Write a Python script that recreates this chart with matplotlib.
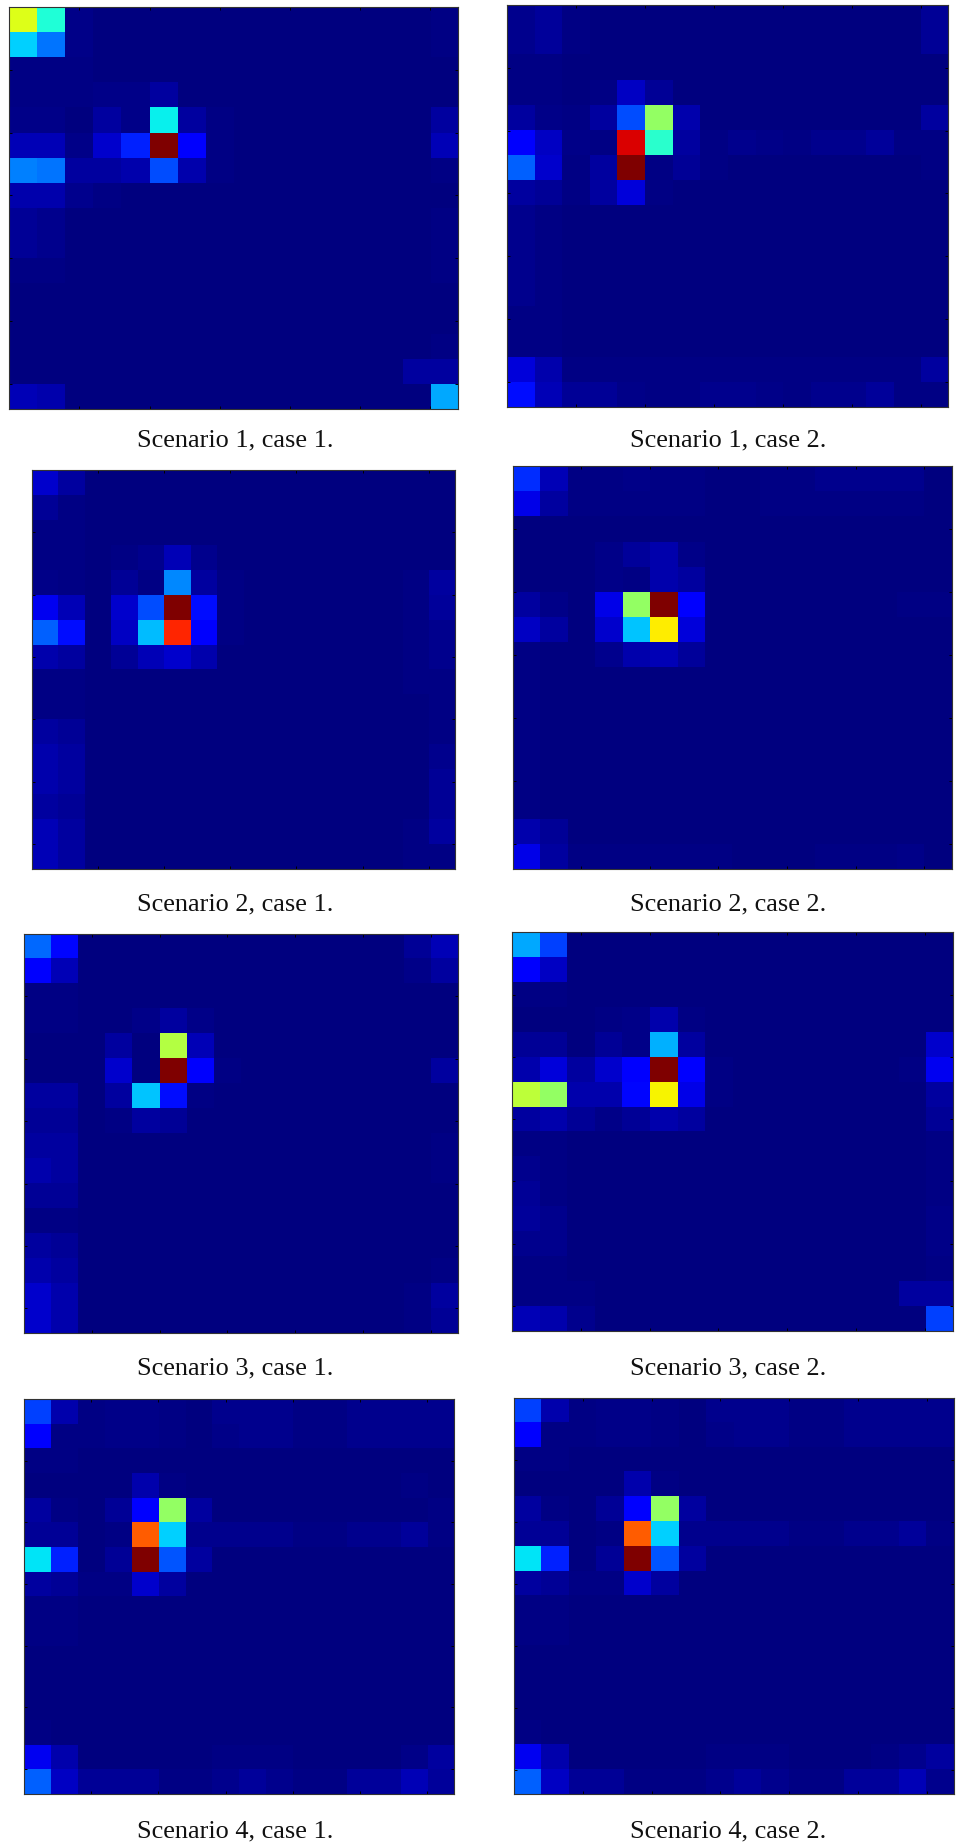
import matplotlib
matplotlib.use("Agg")
import matplotlib.pyplot as plt
import numpy as np

W, H = 957, 1845

captions = ["Scenario 1, case 1.", "Scenario 1, case 2.", "Scenario 2, case 1.", "Scenario 2, case 2.",
            "Scenario 3, case 1.", "Scenario 3, case 2.", "Scenario 4, case 1.", "Scenario 4, case 2."]

# cell intensities (percent of panel maximum), top row first
s1c1 = [
 [62,39,1,0,0,0,0,0,0,0,0,0,0,0,0,0.5],
 [33,24,1,0,0,0,0,0,0,0,0,0,0,0,0,0.5],
 [0.5,0.5,0.5,0.3,0,0,0,0,0,0,0,0,0,0,0,0.3],
 [0.5,0.5,0.5,1,1,3,0,0,0,0,0,0,0,0,0,0.3],
 [1,1,0.3,3,1,36,3,0.5,0,0,0,0,0,0,0.3,3],
 [5,5,1,7,16,100,12,0.5,0,0,0,0,0,0,0.3,5],
 [25,24,3,3,4,20,4,0.5,0,0,0,0,0,0,0.3,0.5],
 [4,4,1.5,0.5,0.3,0.3,0.3,0,0,0,0,0,0,0,0,0.3],
 [2,1.5,0.3,0,0,0,0,0,0,0,0,0,0,0,0.3,0.7],
 [2,1.5,0.3,0,0,0,0,0,0,0,0,0,0,0,0.3,0.7],
 [0.7,0.7,0,0,0,0,0,0,0,0,0,0,0,0,0.3,0.5],
 [0.3,0.3,0,0,0,0,0,0,0,0,0,0,0,0,0.3,0.3],
 [0.3,0.3,0,0,0,0,0,0,0,0,0,0,0,0,0.3,0.3],
 [0.3,0.3,0,0,0,0,0,0,0,0,0,0,0,0,0.3,0.7],
 [0.3,0.3,0,0,0,0,0,0,0,0,0,0,0,0,3,3],
 [5,4,0,0,0,0,0,0,0,0,0,0,0,0,0,29],
]
s1c2 = [
 [1.5,2.5,0.5,0.3,0,0,0,0,0,0,0,0,0,0,0,2],
 [1.5,2.5,0.5,0.3,0,0,0,0,0,0,0,0,0,0,0,2],
 [0.5,0.5,0.3,0.3,0,0,0,0,0,0,0,0,0,0,0,0.3],
 [0.5,0.5,0.3,0.7,6,2,0,0,0,0,0,0,0,0,0.3,0.3],
 [3,1,0.7,3,20,53,4,0,0,0,0,0,0,0,0.3,3],
 [11,6,1,0.5,92,40,3,0.7,1.5,1,0.5,1.5,1.5,2.5,0.7,0.7],
 [22,7,0.5,3,100,0.7,2,0.7,0.3,0.3,0.3,0.3,0.3,0.3,0.3,0.7],
 [3,2,0.7,3,8,0.7,0,0,0,0,0,0,0,0,0,0],
 [1.5,0.7,0.3,0,0,0,0,0,0,0,0,0,0,0,0,0],
 [1.5,0.7,0.3,0,0,0,0,0,0,0,0,0,0,0,0,0],
 [1.5,0.7,0.3,0,0,0,0,0,0,0,0,0,0,0,0,0],
 [1.5,0.7,0.3,0,0,0,0,0,0,0,0,0,0,0,0,0],
 [0.7,0.7,0.3,0,0,0,0,0,0,0,0,0,0,0,0,0],
 [0.7,0.7,0.3,0,0,0,0,0,0,0,0,0,0,0,0,0],
 [8,4,0.7,0.7,0.7,0.7,0.7,0.7,0.7,0.7,0.7,0.7,0.7,0.7,0.7,3],
 [14,5,2,2,1,0.7,0.7,1.5,1.5,1,0.7,1.5,1.5,2.5,0.7,0.7],
]
s2c1 = [
 [7,3,0,0,0,0,0,0,0,0,0,0,0,0,0,0],
 [2,0.7,0,0,0,0,0,0,0,0,0,0,0,0,0,0],
 [0.5,0.5,0,0,0,0,0,0,0,0,0,0,0,0,0,0],
 [0.5,0.5,0,0.5,1.5,5,1.5,0,0,0,0,0,0,0,0,0],
 [1,0.7,0,2,0.7,26,3,0.5,0,0,0,0,0,0,0.7,3],
 [10,5,0,7,20,100,14,0.5,0,0,0,0,0,0,0.7,2.5],
 [22,14,0,6,31,87,11,0.5,0,0,0,0,0,0,0.7,1.5],
 [4,3,0,2,5,7,4,0,0,0,0,0,0,0,0.7,1.5],
 [0.7,0.7,0,0,0,0,0,0,0,0,0,0,0,0,0.7,0.7],
 [0.7,0.7,0,0,0,0,0,0,0,0,0,0,0,0,0.3,0.7],
 [3,2,0,0,0,0,0,0,0,0,0,0,0,0,0.3,0.7],
 [4,3,0,0,0,0,0,0,0,0,0,0,0,0,0.3,1.5],
 [4,3,0,0,0,0,0,0,0,0,0,0,0,0,0.3,2],
 [3,2,0,0,0,0,0,0,0,0,0,0,0,0,0.3,2],
 [5,3,0,0,0,0,0,0,0,0,0,0,0,0,0.5,3],
 [5,3,0,0,0,0,0,0,0,0,0,0,0,0,0.5,0.7],
]
s2c2 = [
 [17,5,0.7,0.7,1,0.7,0.7,0.3,0.3,0.7,0.7,1.2,1.2,1.2,1.2,0.3],
 [9,3,0.7,0.7,0.7,0.7,0.7,0.3,0.3,0.7,0.7,0.7,0.7,0.7,0.7,0.3],
 [0.3,0.3,0,0,0,0,0,0,0,0,0,0,0,0,0,0],
 [0,0,0,1,2.5,4,1,0,0,0,0,0,0,0,0,0],
 [0,0,0,1,0.5,4,3,0,0,0,0,0,0,0,0,0],
 [3,1,0,9,53,100,12,0,0,0,0,0,0,0,0.5,0.5],
 [6,3,0,7,32,66,8,0,0,0,0,0,0,0,0,0],
 [0.7,0,0,1.5,4,5,2.5,0,0,0,0,0,0,0,0,0],
 [0.5,0,0,0,0,0,0,0,0,0,0,0,0,0,0,0],
 [0.5,0,0,0,0,0,0,0,0,0,0,0,0,0,0,0],
 [0.7,0.3,0,0,0,0,0,0,0,0,0,0,0,0,0,0],
 [0.7,0.3,0,0,0,0,0,0,0,0,0,0,0,0,0,0],
 [0.7,0.3,0,0,0,0,0,0,0,0,0,0,0,0,0,0],
 [0.7,0.3,0,0,0,0,0,0,0,0,0,0,0,0,0,0],
 [4,2,0.3,0.3,0,0,0,0,0,0,0,0,0,0,0,0.3],
 [9,3,0.7,0.7,0.7,0.7,0.7,0.7,0.3,0.3,0.3,0.7,0.7,0.7,1,0.3],
]
s3c1 = [
 [23,13,0,0,0,0,0,0,0,0,0,0,0,0,2,5],
 [11,5,0,0,0,0,0,0,0,0,0,0,0,0,1,3],
 [0.7,0.7,0,0,0,0,0,0,0,0,0,0,0,0,0,0],
 [0.7,0.7,0,0,1,3,1,0,0,0,0,0,0,0,0,0],
 [0,0,0,3,0,57,5,0,0,0,0,0,0,0,0,0],
 [0,0,0,7,0,100,11,0.5,0,0,0,0,0,0,0,3],
 [3,3,0,3,32,14,0.5,0,0,0,0,0,0,0,0,0],
 [2,2,0,0.7,3,2,0,0,0,0,0,0,0,0,0,0],
 [3,3,0,0,0,0,0,0,0,0,0,0,0,0,0,0.7],
 [4,3,0,0,0,0,0,0,0,0,0,0,0,0,0,0.7],
 [2,2,0,0,0,0,0,0,0,0,0,0,0,0,0,0.3],
 [0.7,0.7,0,0,0,0,0,0,0,0,0,0,0,0,0,0.3],
 [3,2,0,0,0,0,0,0,0,0,0,0,0,0,0,0.3],
 [4,3,0,0,0,0,0,0,0,0,0,0,0,0,0,0.7],
 [7,4,0,0,0,0,0,0,0,0,0,0,0,0,0.5,3],
 [7,4,0,0,0,0,0,0,0,0,0,0,0,0,0.5,2],
]
s3c2 = [
 [29,19,0,0,0,0,0,0,0,0,0,0,0,0,0,0],
 [11,6,0,0,0,0,0,0,0,0,0,0,0,0,0,0],
 [0.5,0.5,0,0,0,0,0,0,0,0,0,0,0,0,0,0],
 [0,0,0,0.5,1,4,0.7,0,0,0,0,0,0,0,0,0],
 [2,2,0,2,1,30,3,0,0,0,0,0,0,0,0,7],
 [4,8,3,7,12,100,12,0.7,0,0,0,0,0,0,0.7,10],
 [58,53,4,4,13,65,9,0.7,0,0,0,0,0,0,0,3],
 [3,4,2,1,2,4,3,0,0,0,0,0,0,0,0,2],
 [0.7,0.5,0,0,0,0,0,0,0,0,0,0,0,0,0,0.7],
 [1.5,0.7,0,0,0,0,0,0,0,0,0,0,0,0,0,0.7],
 [2,0.7,0,0,0,0,0,0,0,0,0,0,0,0,0,0.7],
 [2.5,1.5,0,0,0,0,0,0,0,0,0,0,0,0,0,1],
 [1.5,1.5,0,0,0,0,0,0,0,0,0,0,0,0,0,1],
 [0.7,0.7,0,0,0,0,0,0,0,0,0,0,0,0,0,0.7],
 [0.7,0.7,0.5,0,0,0,0,0,0,0,0,0,0,0,3,3],
 [5,4,1.5,0,0,0,0,0,0,0,0,0,0,0,0,19],
]
s4c1 = [
 [19,4,0.7,1,1,0.7,0,1.5,1.5,1.5,0.7,0.5,1.5,1.5,1.5,1.5],
 [12,0.7,0.7,1,1,0.7,0,1,1.5,1.5,0.7,0.5,1.5,1.5,1.5,1.5],
 [0.7,0.7,0.3,0.3,0.3,0.3,0.3,0.3,0.3,0.3,0.3,0.3,0.3,0.3,0.3,0.3],
 [0,0,0,0,4,0.7,0.3,0.3,0.3,0.3,0.3,0.3,0.3,0.3,0.5,0.3],
 [3,0.7,0,2,12,53,3,0.3,0.3,0.3,0.3,0.3,0.3,0.3,0.3,0.7],
 [2,2,0,0.7,81,33,1.5,1.5,1.5,1.5,0.7,0.7,1.5,1.5,2.5,0.7],
 [35,16,0,2,100,21,3,0,0,0,0,0,0,0,0,0],
 [3,2,0.7,0.7,7,3,0,0,0,0,0,0,0,0,0,0],
 [0.7,0.5,0,0,0,0,0,0,0,0,0,0,0,0,0,0],
 [0.7,0.5,0,0,0,0,0,0,0,0,0,0,0,0,0,0],
 [0.3,0.3,0,0,0,0,0,0,0,0,0,0,0,0,0,0],
 [0,0,0,0,0,0,0,0,0,0,0,0,0,0,0,0],
 [0.3,0.3,0,0,0,0,0,0,0,0,0,0,0,0,0,0],
 [0.7,0.3,0,0,0,0,0,0,0,0,0,0,0,0,0,0],
 [10,4,0,0,0,0,0,0.7,0.7,0.7,0.3,0.3,0.3,0.3,1,3],
 [22,6,2,2,2,0.7,0.7,1.5,2.5,1.5,0.7,0.7,2.5,2.5,5,2.5],
]
s4c2 = [
 [19,4,0.7,1,1,0.7,0,1.5,1.5,1.5,0.7,0.5,1.5,1.5,1.5,1.5],
 [12,0.7,0.7,1,1,0.7,0,1,1.5,1.5,0.7,0.5,1.5,1.5,1.5,1.5],
 [0.7,0.7,0.3,0.3,0.3,0.3,0.3,0.3,0.3,0.3,0.3,0.3,0.3,0.3,0.3,0.3],
 [0,0,0,0,4,0.7,0.3,0.3,0.3,0.3,0.3,0.3,0.3,0.3,0.3,0.3],
 [3,0.7,0,2,12,53,3,0.3,0.3,0.3,0.3,0.3,0.3,0.3,0.3,0.3],
 [2,2,0,0.7,81,33,1.5,1.5,1.5,1.5,0.7,0.7,1.5,1.5,2.5,0.7],
 [35,16,0,2,100,21,3,0,0,0,0,0,0,0,0,0],
 [3,2,0.7,0.7,7,3,0,0,0,0,0,0,0,0,0,0],
 [0.7,0.5,0,0,0,0,0,0,0,0,0,0,0,0,0,0],
 [0.7,0.5,0,0,0,0,0,0,0,0,0,0,0,0,0,0],
 [0.3,0.3,0,0,0,0,0,0,0,0,0,0,0,0,0,0],
 [0,0,0,0,0,0,0,0,0,0,0,0,0,0,0,0],
 [0.3,0.3,0,0,0,0,0,0,0,0,0,0,0,0,0,0],
 [0.7,0.3,0,0,0,0,0,0,0,0,0,0,0,0,0,0],
 [10,4,0,0,0,0,0,0.7,0.7,0.7,0.3,0.3,0.3,0.7,1.5,3],
 [22,6,2,2,0.7,0.7,0.7,1.5,2.5,1.5,0.7,0.7,2.5,2.5,5,1.5],
]
panels = [s1c1, s1c2, s2c1, s2c2, s3c1, s3c2, s4c1, s4c2]

# panel boxes in pixels: left, right, top, bottom
boxes = [(9.3, 458.5, 7.3, 408.7), (506.7, 948.3, 4.7, 407.3),
         (31.7, 455.3, 470, 869), (512.7, 951.7, 466.3, 869.3),
         (24, 457.7, 934, 1333.3), (511.7, 952.7, 932.3, 1331),
         (24, 454.3, 1399, 1793.7), (514, 954, 1397.7, 1794.3)]
caption_xy = [(235, 440), (727.7, 440), (235, 904), (727.7, 904),
              (235, 1368), (727.7, 1368), (235, 1831), (727.7, 1831)]
tick_pos = [2, 4.5, 7, 9.5, 12, 14.5]

fig = plt.figure(figsize=(W / 100, H / 100), dpi=100, facecolor="white")
for grid, (l, r, t, b), cap, (cx, cy) in zip(panels, boxes, captions, caption_xy):
    ax = fig.add_axes([l / W, 1 - b / H, (r - l) / W, (b - t) / H])
    ax.imshow(np.array(grid, dtype=float), cmap="jet", vmin=0, vmax=100,
              aspect="auto", interpolation="nearest")
    ax.set_xticks(tick_pos)
    ax.set_yticks(tick_pos)
    ax.tick_params(direction="in", top=True, right=True, length=2.5, width=0.7,
                   color="black", labelbottom=False, labelleft=False)
    for s in ax.spines.values():
        s.set_linewidth(0.8)
        s.set_color("#333333")
    fig.text(cx / W, 1 - cy / H, cap, family="Liberation Serif", fontsize=18.9,
             color="#111111", ha="center", va="center")

fig.savefig("out.png", dpi=100)
